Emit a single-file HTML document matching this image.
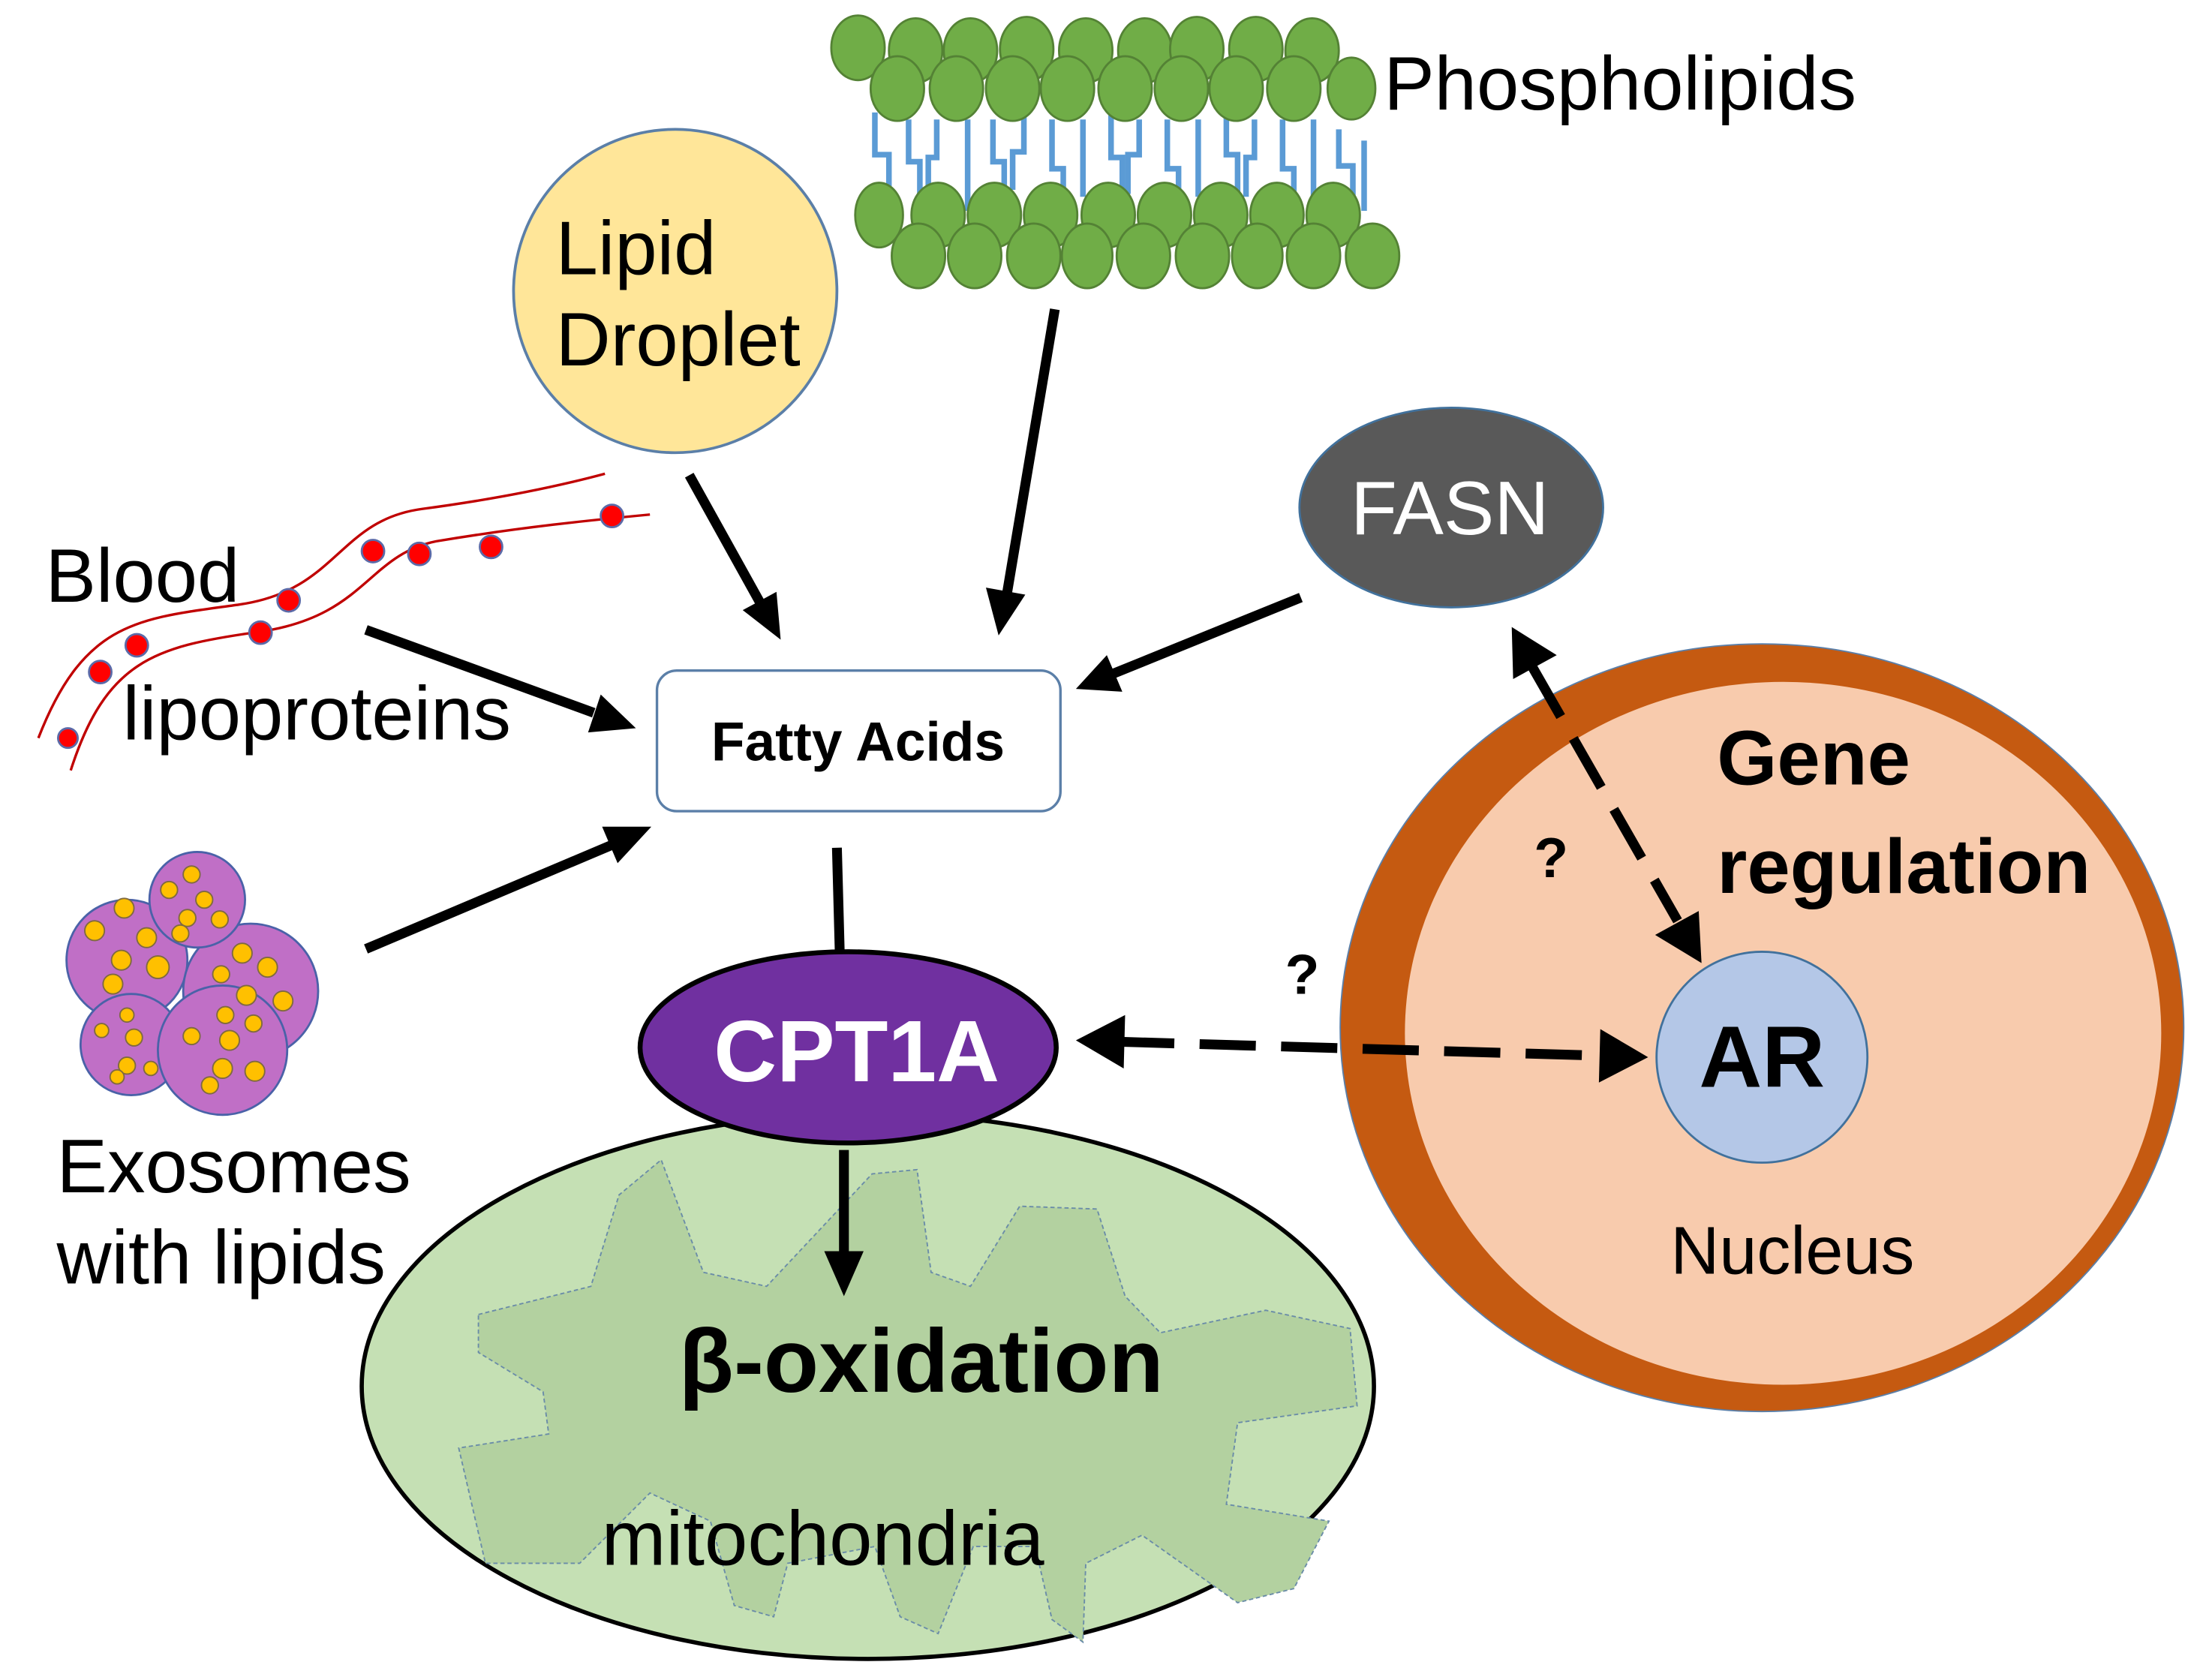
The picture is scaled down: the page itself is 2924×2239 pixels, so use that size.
<!DOCTYPE html>
<html><head><meta charset="utf-8"><style>
html,body{margin:0;padding:0;background:#fff;}
svg{display:block;}
text{font-family:"Liberation Sans",sans-serif;}
</style></head><body>
<svg width="2924" height="2239" viewBox="0 0 1560 1195" xmlns="http://www.w3.org/2000/svg">
<rect width="1560" height="1195" fill="#fff"/>

<!-- Phospholipid tails -->
<g stroke="#5b9bd5" stroke-width="4" fill="none">
<polyline points="622,80 622,110 632,110 632,135"/>
<polyline points="646,85 646,115 654,115 654,150"/>
<polyline points="666,85 666,112 660,112 660,140"/>
<polyline points="688,85 688,150"/>
<polyline points="706,85 706,115 714,115 714,145"/>
<polyline points="728,82 728,108 720,108 720,135"/>
<polyline points="748,85 748,120 756,120 756,150"/>
<polyline points="770,85 770,140"/>
<polyline points="790,82 790,112 798,112 798,145"/>
<polyline points="810,85 810,110 802,110 802,138"/>
<polyline points="830,85 830,120 838,120 838,150"/>
<polyline points="852,85 852,140"/>
<polyline points="872,82 872,110 880,110 880,148"/>
<polyline points="892,85 892,112 886,112 886,140"/>
<polyline points="912,85 912,120 920,120 920,150"/>
<polyline points="934,85 934,140"/>
<polyline points="952,92 952,118 962,118 962,140"/>
<polyline points="970,100 970,150"/>
</g>
<g fill="#70ad47" stroke="#548235" stroke-width="1.5">
<ellipse cx="610" cy="34" rx="19" ry="23"/><ellipse cx="651" cy="36" rx="19" ry="23"/><ellipse cx="690" cy="36" rx="19" ry="23"/><ellipse cx="730" cy="35" rx="19" ry="23"/><ellipse cx="772" cy="36" rx="19" ry="23"/><ellipse cx="814" cy="36" rx="19" ry="23"/><ellipse cx="851" cy="35" rx="19" ry="23"/><ellipse cx="893" cy="35" rx="19" ry="23"/><ellipse cx="933" cy="36" rx="19" ry="23"/>
<ellipse cx="638" cy="63" rx="19" ry="23"/><ellipse cx="680" cy="63" rx="19" ry="23"/><ellipse cx="720" cy="63" rx="19" ry="23"/><ellipse cx="759" cy="63" rx="19" ry="23"/><ellipse cx="800" cy="63" rx="19" ry="23"/><ellipse cx="840" cy="63" rx="19" ry="23"/><ellipse cx="879" cy="63" rx="19" ry="23"/><ellipse cx="920" cy="63" rx="19" ry="23"/><ellipse cx="961" cy="63" rx="17" ry="22"/>
<ellipse cx="625" cy="153" rx="17" ry="23"/><ellipse cx="667" cy="153" rx="19" ry="23"/><ellipse cx="707" cy="153" rx="19" ry="23"/><ellipse cx="747" cy="153" rx="19" ry="23"/><ellipse cx="788" cy="153" rx="19" ry="23"/><ellipse cx="828" cy="153" rx="19" ry="23"/><ellipse cx="868" cy="153" rx="19" ry="23"/><ellipse cx="908" cy="153" rx="19" ry="23"/><ellipse cx="948" cy="153" rx="19" ry="23"/>
<ellipse cx="653" cy="182" rx="19" ry="23"/><ellipse cx="693" cy="182" rx="19" ry="23"/><ellipse cx="735" cy="182" rx="19" ry="23"/><ellipse cx="773" cy="182" rx="18" ry="23"/><ellipse cx="813" cy="182" rx="19" ry="23"/><ellipse cx="855" cy="182" rx="19" ry="23"/><ellipse cx="894" cy="182" rx="18" ry="23"/><ellipse cx="934" cy="182" rx="19" ry="23"/><ellipse cx="976" cy="182" rx="19" ry="23"/>
</g>
<text x="984" y="78" font-size="54">Phospholipids</text>

<circle cx="480" cy="207" r="115" fill="#ffe699" stroke="#5b7fa8" stroke-width="2"/>
<text x="395" y="195" font-size="54">Lipid</text>
<text x="395" y="260" font-size="54">Droplet</text>

<ellipse cx="1032" cy="361" rx="108" ry="71" fill="#595959" stroke="#41719c" stroke-width="1.5"/>
<text x="1031" y="380" font-size="54" fill="#fff" text-anchor="middle">FASN</text>

<g stroke="#c00000" stroke-width="1.8" fill="none">
<path d="M27,525 C60,440 100,440 170,430 C240,420 240,370 300,362 C360,354 400,345 430,337"/>
<path d="M50,548 C75,470 110,460 180,450 C260,440 260,395 310,385 C370,375 420,370 462,366"/>
</g>
<g fill="#ff0000" stroke="#5b6aa8" stroke-width="1.5">
<circle cx="48" cy="525" r="7"/><circle cx="71" cy="478" r="8"/><circle cx="97" cy="459" r="8"/><circle cx="185" cy="450" r="8"/><circle cx="205" cy="427" r="8"/><circle cx="265" cy="392" r="8"/><circle cx="298" cy="394" r="8"/><circle cx="349" cy="389" r="8"/><circle cx="435" cy="367" r="8"/>
</g>
<text x="32" y="428" font-size="54">Blood</text>
<text x="87" y="526" font-size="54">lipoproteins</text>

<g stroke="#4a62a8" stroke-width="1.5">
<circle cx="90" cy="683" r="43" fill="#c06fc6"/>
<circle cx="178" cy="705" r="48" fill="#c06fc6"/>
<circle cx="140" cy="640" r="34" fill="#c06fc6"/>
<circle cx="93" cy="743" r="36" fill="#c06fc6"/>
<circle cx="158" cy="747" r="46" fill="#c06fc6"/>
</g>
<g fill="#ffc000" stroke="#7f6a40" stroke-width="1">
<circle cx="67" cy="662" r="7"/><circle cx="88" cy="646" r="7"/><circle cx="104" cy="667" r="7"/><circle cx="86" cy="683" r="7"/><circle cx="112" cy="688" r="8"/><circle cx="80" cy="700" r="7"/>
<circle cx="120" cy="633" r="6"/><circle cx="136" cy="622" r="6"/><circle cx="145" cy="640" r="6"/><circle cx="133" cy="653" r="6"/><circle cx="156" cy="654" r="6"/><circle cx="128" cy="664" r="6"/>
<circle cx="172" cy="678" r="7"/><circle cx="190" cy="688" r="7"/><circle cx="175" cy="708" r="7"/><circle cx="201" cy="712" r="7"/><circle cx="157" cy="693" r="6"/><circle cx="180" cy="728" r="6"/>
<circle cx="90" cy="722" r="5"/><circle cx="72" cy="733" r="5"/><circle cx="95" cy="738" r="6"/><circle cx="90" cy="758" r="6"/><circle cx="107" cy="760" r="5"/><circle cx="83" cy="766" r="5"/>
<circle cx="160" cy="722" r="6"/><circle cx="136" cy="737" r="6"/><circle cx="163" cy="740" r="7"/><circle cx="158" cy="760" r="7"/><circle cx="181" cy="762" r="7"/><circle cx="149" cy="772" r="6"/>
</g>
<text x="40" y="848" font-size="54">Exosomes</text>
<text x="40" y="913" font-size="54">with lipids</text>

<rect x="467" y="477" width="287" height="100" rx="14" fill="#fff" stroke="#5b7fa8" stroke-width="1.8"/>
<text x="610" y="541" font-size="39" font-weight="bold" text-anchor="middle">Fatty Acids</text>

<ellipse cx="1253" cy="731" rx="300" ry="273" fill="#c55a11" stroke="#5b7fa8" stroke-width="1"/>
<ellipse cx="1268" cy="735" rx="269" ry="250" fill="#f8cbad"/>
<circle cx="1253" cy="752" r="75" fill="#b4c7e7" stroke="#41719c" stroke-width="1.5"/>
<text x="1253" y="773" font-size="62" font-weight="bold" text-anchor="middle">AR</text>
<text x="1221" y="558" font-size="55" font-weight="bold">Gene</text>
<text x="1221" y="635" font-size="55" font-weight="bold">regulation</text>
<text x="1188" y="906" font-size="48">Nucleus</text>

<ellipse cx="617" cy="986" rx="360" ry="194" fill="#c5e0b4" stroke="#000" stroke-width="3"/>
<path d="M340,935 L420,915 L440,850 L470,825 L500,905 L545,915 L620,835 L652,832 L662,905 L690,915 L725,858 L780,860 L800,922 L825,948 L900,932 L960,945 L965,1000 L880,1012 L872,1070 L945,1082 L920,1130 L880,1140 L812,1092 L772,1112 L770,1168 L748,1152 L736,1100 L692,1100 L667,1162 L640,1150 L622,1100 L560,1112 L550,1150 L522,1142 L505,1082 L462,1062 L412,1112 L345,1112 L326,1030 L390,1020 L386,990 L340,962 Z" fill="#b3d1a0" stroke="#6a8ca8" stroke-width="1" stroke-dasharray="3,2"/>
<text x="655" y="990" font-size="64" font-weight="bold" text-anchor="middle">β-oxidation</text>
<text x="585" y="1113" font-size="55" text-anchor="middle">mitochondria</text>

<ellipse cx="603" cy="745" rx="148" ry="68" fill="#7030a0" stroke="#000" stroke-width="3.5"/>
<text x="609" y="769" font-size="62" font-weight="bold" fill="#fff" text-anchor="middle">CPT1A</text>

<g stroke="#000" stroke-width="7" fill="none">
<line x1="490" y1="338" x2="540" y2="428"/>
<line x1="750" y1="220" x2="716" y2="422"/>
<line x1="925" y1="425" x2="792" y2="479"/>
<line x1="260" y1="448" x2="422" y2="507"/>
<line x1="260" y1="675" x2="435" y2="601"/>
<line x1="595" y1="603" x2="597" y2="677"/>
<line x1="600" y1="818" x2="600" y2="895"/>
<line x1="795" y1="741" x2="1142" y2="751" stroke-dasharray="40,18"/>
<line x1="1090" y1="475" x2="1193" y2="655" stroke-dasharray="40,18"/>
</g>
<g fill="#000">
<polygon points="555,455 528,434 552,421"/>
<polygon points="710,452 701,418 729,423"/>
<polygon points="765,490 787,466 798,492"/>
<polygon points="452,518 418,521 427,494"/>
<polygon points="463,588 439,614 428,588"/>
<polygon points="600,922 586,890 614,890"/>
<polygon points="765,740 800,722 799,760"/>
<polygon points="1172,752 1137,770 1138,732"/>
<polygon points="1075,446 1107,466 1076,483"/>
<polygon points="1210,685 1177,665 1208,648"/>
</g>
<text x="1103" y="624" font-size="40" font-weight="bold" text-anchor="middle">?</text>
<text x="926" y="707" font-size="40" font-weight="bold" text-anchor="middle">?</text>
</svg>
</body></html>
